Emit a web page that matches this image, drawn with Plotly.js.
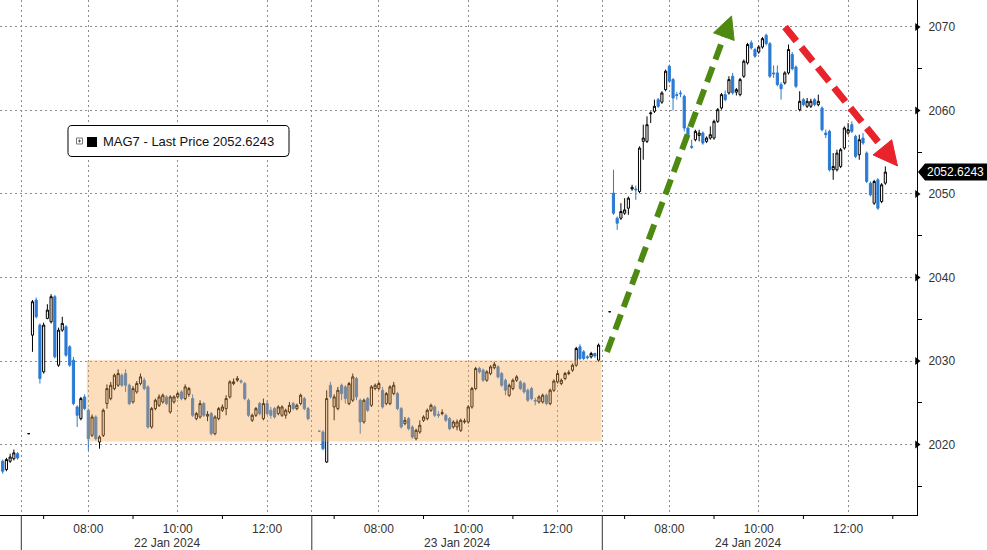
<!DOCTYPE html>
<html><head><meta charset="utf-8">
<script src="https://cdn.plot.ly/plotly-3.0.1.min.js"></script>
<style>html,body{margin:0;padding:0;background:#fff}#chart{width:987px;height:550px}</style>
</head><body><div id="chart"></div>
<script>
// ---------- DATA (5-minute candles, MAG7 index) ----------
// slot = 5-minute bar number, 78 bars per session (06:30-13:00), session starts at 0, 78, 156
const firstSlot19 = -5, firstSlot22 = 2, firstSlot23 = 80, firstSlot24 = 158;

const open19  = [2018.0,2017.0,2018.0,2018.3,2018.9];
const high19  = [2018.2,2018.4,2018.9,2019.4,2019.1];
const low19   = [2016.5,2016.8,2017.8,2018.1,2018.2];
const close19 = [2016.8,2018.2,2018.5,2019.0,2018.4];

const open22 = [2021.3,2033.1,2037.3,2034.3,2028.7,2035.1,2034.7,2037.7,2029.5,2033.7,
2034.1,2031.7,2030.1,2024.5,2023.1,2025.7,2024.1,2021.1,2023.3,2020.3,
2021.1,2024.9,2025.5,2026.7,2027.1,2028.3,2028.5,2027.1,2025.1,2026.3,
2027.3,2027.7,2026.9,2022.1,2024.3,2024.7,2025.1,2025.7,2023.9,2025.1,
2025.7,2026.3,2025.5,2026.0,2025.5,2023.1,2023.3,2024.9,2023.4,2023.7,
2021.3,2023.1,2024.1,2024.3,2025.7,2027.3,2027.7,2027.6,2027.3,2025.3,
2022.9,2023.5,2024.9,2023.1,2024.9,2024.1,2024.3,2023.7,2023.5,2023.5,
2023.9,2024.9,2024.3,2024.9,2025.5,2024.3];
const high22 = [2021.3,2037.3,2037.6,2034.5,2034.6,2036.8,2038.0,2037.9,2034.0,2035.3,
2034.3,2031.9,2030.5,2024.7,2025.7,2026.0,2024.3,2023.6,2023.5,2021.1,
2024.3,2027.2,2027.5,2028.5,2029.0,2028.5,2029.0,2027.3,2027.0,2027.6,
2028.5,2028.0,2027.1,2024.5,2025.5,2026.0,2026.1,2025.9,2025.9,2025.9,
2026.3,2026.5,2027.2,2026.9,2026.0,2023.9,2025.3,2025.1,2024.0,2023.9,
2023.5,2024.5,2024.8,2025.9,2027.7,2027.9,2028.2,2027.8,2027.5,2025.5,
2023.7,2024.5,2025.1,2025.5,2025.3,2024.5,2024.5,2024.7,2024.7,2024.3,
2025.1,2025.1,2024.9,2026.1,2025.7,2024.5];
const low22 = [2021.3,2031.1,2035.1,2027.3,2028.5,2035.0,2034.5,2030.3,2029.3,2033.5,
2030.5,2029.3,2024.7,2022.1,2022.9,2024.1,2019.3,2020.9,2020.5,2019.5,
2020.9,2024.3,2025.3,2026.5,2026.9,2026.9,2026.3,2024.7,2024.9,2026.1,
2027.1,2026.5,2021.9,2021.9,2024.1,2024.5,2024.9,2024.7,2023.7,2024.9,
2025.5,2025.3,2025.3,2025.7,2023.3,2022.9,2023.1,2023.3,2022.8,2021.1,
2021.1,2022.9,2023.9,2023.5,2025.5,2027.1,2027.5,2027.3,2025.3,2023.3,
2022.7,2023.3,2023.5,2022.9,2023.5,2023.1,2023.1,2023.5,2023.3,2023.1,
2023.7,2024.1,2024.1,2024.7,2024.1,2022.9];
const close22 = [2021.3,2037.1,2035.3,2027.9,2034.3,2036.1,2037.7,2030.5,2033.7,2034.5,
2030.7,2029.5,2024.9,2023.5,2025.5,2024.3,2020.7,2023.3,2020.7,2020.9,
2024.1,2026.7,2027.1,2028.3,2028.5,2027.1,2027.1,2024.9,2026.7,2027.3,
2028.1,2026.7,2022.1,2024.3,2025.3,2025.7,2025.9,2024.9,2025.7,2025.7,
2026.1,2025.5,2026.9,2026.7,2023.5,2023.7,2024.9,2023.5,2023.6,2021.3,
2023.3,2024.3,2024.5,2025.5,2027.5,2027.5,2027.9,2027.5,2025.5,2023.5,
2023.5,2024.3,2023.7,2024.9,2023.7,2023.5,2023.3,2024.5,2024.5,2024.1,
2024.7,2024.3,2024.7,2025.9,2024.3,2023.1];

const open23 = [2021.6,2021.5,2017.9,2027.1,2024.5,2024.3,2027.1,2026.9,2024.9,2025.3,
2027.9,2025.3,2022.7,2025.5,2024.7,2026.7,2026.7,2026.5,2024.9,2024.9,
2026.1,2026.1,2024.3,2022.5,2023.1,2022.1,2020.7,2021.5,2022.9,2023.1,
2024.1,2024.5,2023.6,2023.7,2023.5,2023.1,2022.1,2022.1,2021.7,2022.7,
2022.7,2024.5,2026.7,2029.1,2028.9,2027.7,2028.5,2029.2,2029.3,2028.5,
2027.7,2025.9,2026.7,2027.7,2027.5,2027.3,2026.5,2026.7,2025.3,2025.1,
2025.1,2025.9,2024.9,2026.5,2027.5,2027.3,2027.9,2028.5,2028.9,2029.5,
2031.7,2031.1,2030.5,2030.5,2030.9,2030.1];
const high23 = [2021.6,2021.7,2026.5,2027.5,2026.0,2026.9,2027.3,2027.1,2027.5,2028.5,
2028.1,2025.5,2025.5,2025.7,2027.1,2027.3,2027.5,2026.9,2026.3,2027.1,
2027.5,2026.3,2024.5,2023.3,2023.3,2022.3,2021.9,2022.9,2023.5,2024.3,
2024.9,2024.7,2024.0,2024.2,2023.7,2023.3,2022.9,2023.0,2023.1,2023.1,
2024.7,2026.9,2029.3,2029.3,2029.1,2028.9,2029.5,2029.9,2029.5,2028.7,
2027.9,2027.3,2027.9,2028.3,2027.7,2027.5,2026.7,2026.9,2025.6,2025.9,
2026.1,2026.1,2026.7,2027.8,2028.9,2027.9,2028.7,2028.9,2029.7,2031.7,
2032.0,2031.3,2030.7,2031.1,2031.0,2032.1];
const low23 = [2021.6,2019.3,2017.8,2025.5,2022.9,2024.1,2025.3,2024.9,2024.7,2025.1,
2025.3,2021.3,2022.5,2023.9,2024.5,2026.5,2026.5,2024.3,2024.7,2024.7,
2025.9,2024.1,2021.9,2022.3,2021.7,2020.7,2020.5,2021.3,2022.7,2022.9,
2023.9,2023.3,2023.2,2023.5,2022.7,2021.7,2021.9,2021.7,2021.5,2022.5,
2022.5,2024.3,2026.5,2028.5,2027.5,2027.5,2028.3,2029.0,2027.9,2026.9,
2025.9,2025.7,2026.5,2027.5,2026.5,2026.1,2025.1,2025.3,2024.7,2024.9,
2024.9,2024.7,2024.7,2026.3,2027.3,2027.1,2027.7,2028.3,2028.7,2029.3,
2030.1,2030.1,2030.2,2030.3,2030.4,2029.9];
const close23 = [2021.6,2019.5,2025.5,2025.7,2025.7,2026.5,2026.1,2025.5,2027.3,2028.1,
2025.7,2022.7,2025.3,2024.1,2026.9,2027.1,2027.3,2024.5,2026.1,2026.9,
2027.1,2024.3,2022.1,2022.9,2021.9,2020.9,2021.7,2022.3,2023.3,2024.1,
2024.7,2023.5,2023.5,2023.8,2022.9,2021.9,2022.7,2022.7,2022.9,2022.8,
2024.5,2026.7,2029.1,2028.7,2027.7,2028.7,2029.3,2029.6,2028.1,2027.1,
2026.5,2027.1,2027.7,2028.1,2026.7,2026.3,2025.3,2025.5,2025.2,2025.7,
2025.9,2024.9,2026.5,2027.6,2028.5,2027.7,2028.5,2028.6,2029.5,2031.5,
2030.3,2030.3,2030.4,2030.9,2030.6,2031.9];

const open24 = [2035.9,2050.1,2047.1,2047.1,2047.7,2048.3,2050.6,2050.6,2050.3,2056.3,
2056.3,2059.6,2059.9,2061.3,2061.0,2062.5,2065.3,2063.7,2061.9,2062.1,
2061.7,2057.9,2055.7,2056.5,2057.0,2057.3,2056.3,2056.7,2056.7,2058.7,
2060.3,2061.9,2062.1,2064.1,2062.2,2061.9,2064.1,2065.7,2068.1,2067.3,
2067.0,2067.6,2069.0,2068.0,2064.5,2064.5,2063.1,2063.3,2064.5,2066.7,
2065.2,2060.1,2061.3,2060.5,2060.5,2061.3,2060.7,2060.3,2057.3,2057.5,
2052.9,2052.9,2053.3,2055.5,2057.3,2058.3,2056.9,2054.7,2056.7,2054.9,
2051.3,2048.9,2051.7,2049.1,2051.3];
const high24 = [2035.9,2052.9,2047.3,2048.9,2049.5,2049.7,2051.1,2051.0,2055.7,2058.3,
2059.3,2059.9,2061.3,2061.5,2062.3,2064.9,2065.5,2063.9,2062.2,2062.4,
2061.9,2058.1,2056.5,2057.7,2057.7,2057.5,2056.9,2058.1,2058.9,2060.3,
2062.1,2062.4,2064.1,2064.5,2062.7,2063.9,2066.1,2068.1,2068.4,2067.5,
2067.8,2068.8,2069.2,2068.2,2065.4,2065.4,2063.4,2064.7,2067.9,2067.0,
2065.4,2062.3,2061.5,2061.5,2061.4,2061.5,2061.9,2060.5,2057.7,2057.7,
2054.9,2055.3,2055.5,2058.1,2058.5,2058.7,2057.1,2057.1,2057.3,2055.1,
2051.5,2051.7,2051.9,2051.3,2053.3];
const low24 = [2035.9,2047.5,2045.7,2046.9,2047.5,2047.5,2050.4,2049.3,2050.1,2054.1,
2056.1,2058.5,2059.7,2060.3,2060.8,2062.3,2063.3,2060.0,2061.3,2061.6,
2057.5,2056.9,2055.4,2056.3,2056.3,2055.9,2056.1,2056.5,2056.5,2058.5,
2060.1,2061.1,2061.9,2061.9,2061.8,2061.7,2063.9,2065.5,2067.3,2066.3,
2066.8,2067.4,2067.8,2063.9,2063.9,2062.9,2061.3,2063.1,2064.3,2064.8,
2062.7,2059.9,2060.5,2060.3,2060.3,2060.5,2060.5,2057.5,2056.7,2052.7,
2051.7,2052.7,2053.1,2055.3,2057.1,2057.3,2054.3,2054.1,2055.9,2051.3,
2049.7,2048.7,2048.1,2048.9,2051.1];
const close24 = [2035.9,2047.7,2046.5,2047.9,2048.1,2049.5,2050.8,2050.5,2055.5,2056.7,
2058.3,2059.7,2060.5,2060.5,2062.1,2064.7,2063.5,2061.5,2061.8,2062.0,
2057.9,2057.1,2055.6,2057.5,2057.3,2056.1,2056.7,2057.1,2058.7,2060.1,
2061.9,2061.3,2063.7,2062.1,2062.5,2063.7,2065.9,2067.9,2067.5,2066.5,
2067.6,2068.6,2068.0,2064.1,2064.4,2063.1,2062.6,2064.5,2067.3,2065.0,
2062.9,2061.1,2060.7,2061.1,2061.1,2060.7,2061.1,2057.7,2057.1,2052.9,
2053.3,2054.9,2055.3,2057.9,2057.7,2057.5,2054.5,2056.5,2056.1,2051.5,
2049.9,2051.5,2048.3,2051.1,2052.6243];

const lastPrice = 2052.6243;
const seriesName = 'MAG7 - Last Price';
const tickSlots = [0, 18, 42, 66, 78, 96, 120, 144, 156, 174, 198, 222];
const tickText  = ['', '08:00', '10:00', '12:00', '', '08:00', '10:00', '12:00', '', '08:00', '10:00', '12:00'];
const minorSlots = [6, 30, 54, 84, 108, 132, 162, 186, 210, 234];
const sessionStart = [0, 78, 156];
const sessionLabel = ['22 Jan 2024', '23 Jan 2024', '24 Jan 2024'];
const yTicks = [2020, 2030, 2040, 2050, 2060, 2070];
const boxSlots = [17.6, 155.8];      // shaded consolidation range (time)
const boxPrices = [2020.35, 2030.1]; // shaded consolidation range (price)

// ---------- build ----------
function seq(start, n) { const a = []; for (let i = 0; i < n; i++) a.push(start + i); return a; }
const x = [].concat(seq(firstSlot19, open19.length), seq(firstSlot22, open22.length),
                    seq(firstSlot23, open23.length), seq(firstSlot24, open24.length));
const open = [].concat(open19, open22, open23, open24);
const high = [].concat(high19, high22, high23, high24);
const low = [].concat(low19, low22, low23, low24);
const close = [].concat(close19, close22, close23, close24);

const FONT = 'Liberation Sans, Arial, sans-serif';
const PW = 917, PH = 515;            // plot area in px
const xRange = [-5.72, 240.5];
const yRange = [2011.56, 2073.23];
const P = (px, py) => (px / PW).toFixed(5) + ',' + ((PH - py) / PH).toFixed(5);

const candles = {
  type: 'candlestick', x: x, open: open, high: high, low: low, close: close,
  increasing: { line: { color: '#000000', width: 1 }, fillcolor: '#ffffff' },
  decreasing: { line: { color: '#2b7bd4', width: 1 }, fillcolor: '#2b7bd4' },
  whiskerwidth: 0, hoverinfo: 'skip', name: seriesName
};
const tickMarks = {
  type: 'scatter', mode: 'markers', x: yTicks.map(() => xRange[1]), y: yTicks,
  marker: { symbol: 'triangle-right', size: 7, color: '#000' }, cliponaxis: false, hoverinfo: 'skip'
};

const shapes = [];
// shaded range (translucent, above the candles)
shapes.push({ type: 'rect', xref: 'x', yref: 'y', x0: boxSlots[0], x1: boxSlots[1], y0: boxPrices[0], y1: boxPrices[1],
  fillcolor: 'rgba(247,160,70,0.36)', line: { width: 0 }, layer: 'above' });
// minor hour ticks under x axis
minorSlots.forEach(s => shapes.push({ type: 'line', xref: 'x', yref: 'paper', x0: s, x1: s, y0: 0, y1: -4 / PH,
  line: { color: '#000', width: 1 } }));
// session separators under the axis
sessionStart.forEach(s => shapes.push({ type: 'line', xref: 'x', yref: 'paper', x0: s, x1: s, y0: 0, y1: -35 / PH,
  line: { color: '#333', width: 1 } }));

// dashed arrows (pixel geometry)
function arrow(tail, tip, color, width, dash, headLen, headHalf) {
  const dx = tip[0] - tail[0], dy = tip[1] - tail[1], L = Math.hypot(dx, dy);
  const ux = dx / L, uy = dy / L, nx = -uy, ny = ux;
  const bx = tip[0] - ux * headLen, by = tip[1] - uy * headLen;
  const ex = tip[0] - ux * (headLen - 2), ey = tip[1] - uy * (headLen - 2);
  shapes.push({ type: 'path', xref: 'paper', yref: 'paper', layer: 'above',
    path: 'M' + P(tail[0], tail[1]) + ' L' + P(ex, ey), line: { color: color, width: width, dash: dash } });
  shapes.push({ type: 'path', xref: 'paper', yref: 'paper', layer: 'above',
    path: 'M' + P(tip[0], tip[1]) + ' L' + P(bx + nx * headHalf, by + ny * headHalf) + ' L' + P(bx - nx * headHalf, by - ny * headHalf) + ' Z',
    fillcolor: color, line: { color: color, width: 1 } });
}
arrow([607, 352], [731.5, 16], '#4e8a12', 6, '16px,8px', 22, 11);
arrow([785, 27], [897.5, 166], '#e8232b', 7, '18px,8px', 24, 12);

// legend box with rounded corners
(function () {
  const x0 = 68, x1 = 289, y0 = 125.5, y1 = 156.5, r = 4;
  shapes.push({ type: 'path', xref: 'paper', yref: 'paper', layer: 'above',
    path: 'M' + P(x0 + r, y0) + ' L' + P(x1 - r, y0) + ' Q' + P(x1, y0) + ' ' + P(x1, y0 + r) +
          ' L' + P(x1, y1 - r) + ' Q' + P(x1, y1) + ' ' + P(x1 - r, y1) +
          ' L' + P(x0 + r, y1) + ' Q' + P(x0, y1) + ' ' + P(x0, y1 - r) +
          ' L' + P(x0, y0 + r) + ' Q' + P(x0, y0) + ' ' + P(x0 + r, y0) + ' Z',
    fillcolor: '#ffffff', line: { color: '#000', width: 1 } });
  shapes.push({ type: 'rect', xref: 'paper', yref: 'paper', layer: 'above',
    x0: 87 / PW, x1: 97 / PW, y0: (PH - 147) / PH, y1: (PH - 137) / PH, fillcolor: '#000', line: { width: 0 } });
  shapes.push({ type: 'rect', xref: 'paper', yref: 'paper', layer: 'above',
    x0: 76.5 / PW, x1: 82.5 / PW, y0: (PH - 144) / PH, y1: (PH - 138) / PH, fillcolor: '#fff', line: { color: '#777', width: 1 } });
  shapes.push({ type: 'path', xref: 'paper', yref: 'paper', layer: 'above',
    path: 'M' + P(78, 141) + ' L' + P(81, 141) + ' M' + P(79.5, 139.5) + ' L' + P(79.5, 142.5), line: { color: '#555', width: 1 } });
})();

// last-price tag on the right axis
(function () {
  const yc = PH - (lastPrice - yRange[0]) / (yRange[1] - yRange[0]) * PH;
  shapes.push({ type: 'path', xref: 'paper', yref: 'paper', layer: 'above',
    path: 'M' + P(918, yc) + ' L' + P(925, yc - 8.5) + ' L' + P(987, yc - 8.5) + ' L' + P(987, yc + 8.5) + ' L' + P(925, yc + 8.5) + ' Z',
    fillcolor: '#000', line: { width: 0 } });
})();

const annotations = [];
sessionStart.forEach((s, i) => annotations.push({ xref: 'x', yref: 'paper', x: s + 39, y: -28 / PH,
  text: sessionLabel[i], showarrow: false, xanchor: 'center', yanchor: 'middle',
  font: { family: FONT, size: 12, color: '#333' } }));
annotations.push({ xref: 'paper', yref: 'paper', x: 101 / PW, y: (PH - 141.5) / PH, xanchor: 'left', yanchor: 'middle',
  showarrow: false, text: seriesName + ' ' + lastPrice.toFixed(4), font: { family: FONT, size: 13, color: '#111' } });
annotations.push({ xref: 'paper', yref: 'y', x: 956 / PW, y: lastPrice, xanchor: 'center', yanchor: 'middle',
  showarrow: false, text: lastPrice.toFixed(4), font: { family: FONT, size: 12, color: '#ffffff' } });

const grid = { showgrid: true, gridcolor: '#8c8c8c', gridwidth: 1, griddash: '2px,3px', zeroline: false };
const layout = {
  width: 987, height: 550,
  margin: { l: 0, r: 70, t: 0, b: 35, pad: 0 },
  paper_bgcolor: '#ffffff', plot_bgcolor: '#ffffff',
  showlegend: false, boxgap: 0.18, dragmode: false, hovermode: false,
  xaxis: Object.assign({}, grid, {
    type: 'linear', range: xRange, tickmode: 'array', tickvals: tickSlots, ticktext: tickText,
    showline: true, linecolor: '#000', linewidth: 1, ticks: '', ticklabelstandoff: 3,
    tickfont: { family: FONT, size: 12, color: '#333' }, rangeslider: { visible: false }, fixedrange: true
  }),
  yaxis: Object.assign({}, grid, {
    side: 'right', range: yRange, tickmode: 'array', tickvals: yTicks,
    showline: true, linecolor: '#000', linewidth: 1, ticks: '', ticklabelstandoff: 8,
    minor: { tickmode: 'linear', tick0: 2015, dtick: 10, ticks: 'outside', ticklen: 4, tickcolor: '#000', tickwidth: 1, showgrid: false },
    tickfont: { family: FONT, size: 12, color: '#333' }, fixedrange: true
  }),
  shapes: shapes, annotations: annotations
};

Plotly.newPlot('chart', [candles, tickMarks], layout, { staticPlot: true, displayModeBar: false });
</script></body></html>
